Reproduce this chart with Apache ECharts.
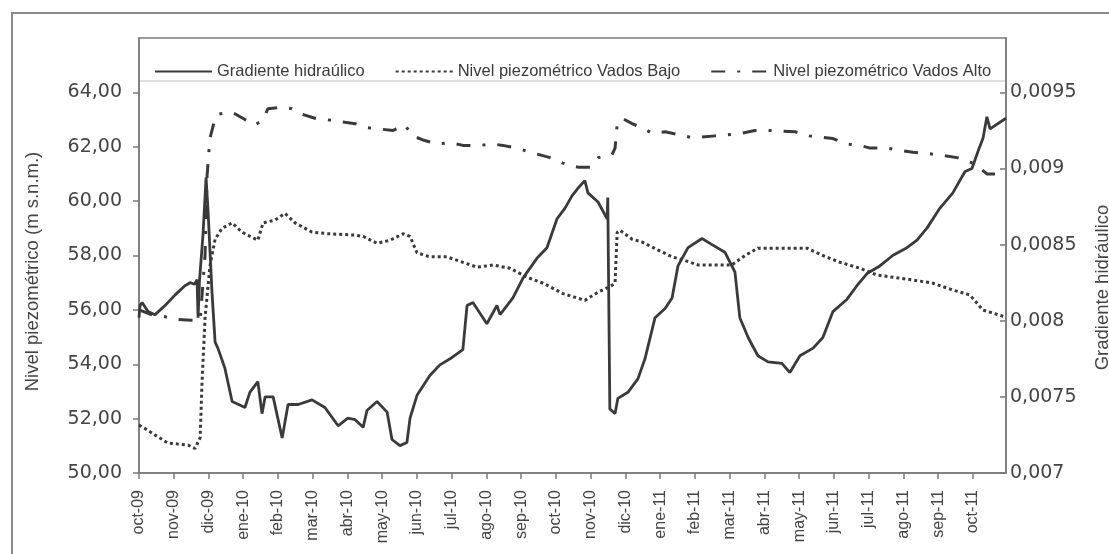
<!DOCTYPE html>
<html>
<head>
<meta charset="utf-8">
<script src="https://cdn.jsdelivr.net/npm/echarts@6/dist/echarts.min.js"></script>
<style>
  html, body { margin: 0; padding: 0; background: #fff; }
  #chart { width: 1109px; height: 554px; }
</style>
</head>
<body>
<div id="chart"></div>
<script>
// month labels, one per tick (month index 0..24)
const months = ['oct-09', 'nov-09', 'dic-09', 'ene-10', 'feb-10', 'mar-10', 'abr-10', 'may-10',
  'jun-10', 'jul-10', 'ago-10', 'sep-10', 'oct-10', 'nov-10', 'dic-10', 'ene-11', 'feb-11',
  'mar-11', 'abr-11', 'may-11', 'jun-11', 'jul-11', 'ago-11', 'sep-11', 'oct-11'];
const monthTicks = months.map((m, i) => i);
const leftTicks = [50, 52, 54, 56, 58, 60, 62, 64];
const rightTicks = [0.007, 0.0075, 0.008, 0.0085, 0.009, 0.0095];

// Gradiente hidraúlico (right axis), position in months from oct-09
const gradMonth = [0, 0.03, 0.09, 0.26, 0.46, 0.75, 1.04, 1.32, 1.47, 1.6, 1.67, 1.7, 1.74, 1.84, 1.93,
  1.99, 2.1, 2.19, 2.27, 2.47, 2.68, 3.05, 3.19, 3.42, 3.54, 3.63, 3.86, 4.12, 4.29, 4.58, 4.98,
  5.35, 5.73, 6.01, 6.22, 6.45, 6.56, 6.85, 7.14, 7.28, 7.51, 7.71, 7.8, 8.0, 8.37, 8.66, 8.95,
  9.32, 9.44, 9.61, 10.01, 10.3, 10.39, 10.76, 11.05, 11.45, 11.74, 12.03, 12.26, 12.46, 12.63,
  12.83, 12.92, 13.21, 13.47, 13.49, 13.55, 13.7, 13.78, 14.07, 14.36, 14.56, 14.85, 15.14, 15.34,
  15.51, 15.8, 16.2, 16.49, 16.86, 17.15, 17.29, 17.53, 17.81, 18.1, 18.5, 18.73, 19.02, 19.4,
  19.68, 19.97, 20.37, 20.66, 20.95, 21.32, 21.7, 22.1, 22.39, 22.68, 23.05, 23.42, 23.77, 23.97,
  24.14, 24.29, 24.4, 24.49, 24.95];
const gradValue = [0.00802, 0.0081, 0.00812, 0.00806, 0.00804, 0.0081, 0.00817, 0.00823, 0.00825,
  0.00824, 0.00827, 0.00802, 0.00826, 0.00856, 0.00894, 0.00871, 0.00819, 0.00786, 0.00782,
  0.00769, 0.00747, 0.00743, 0.00753, 0.0076, 0.00739, 0.0075, 0.0075, 0.00723, 0.00745, 0.00745,
  0.00748, 0.00743, 0.00731, 0.00736, 0.00735, 0.0073, 0.00741, 0.00747, 0.0074, 0.00722, 0.00718,
  0.0072, 0.00736, 0.00751, 0.00764, 0.00771, 0.00775, 0.00781, 0.0081, 0.00812, 0.00798, 0.0081,
  0.00804, 0.00815, 0.00828, 0.00841, 0.00848, 0.00867, 0.00874, 0.00882, 0.00887, 0.00892,
  0.00884, 0.00878, 0.00867, 0.00881, 0.00742, 0.00739, 0.00749, 0.00753, 0.00762, 0.00775,
  0.00802, 0.00808, 0.00815, 0.00836, 0.00848, 0.00854, 0.0085, 0.00845, 0.00832, 0.00802,
  0.00789, 0.00777, 0.00773, 0.00772, 0.00766, 0.00777, 0.00782, 0.00789, 0.00806, 0.00814,
  0.00823, 0.00831, 0.00836, 0.00843, 0.00848, 0.00853, 0.00861, 0.00874, 0.00884, 0.00898,
  0.009, 0.00911, 0.0092, 0.00934, 0.00926, 0.00933];

// Nivel piezométrico Vados Bajo (m s.n.m.)
const bajoMonth = [0, 0.09, 0.46, 0.83, 1.41, 1.61, 1.76, 1.81, 1.9, 2.04, 2.19, 2.39, 2.68, 2.96,
  3.42, 3.57, 3.91, 4.2, 4.49, 4.98, 5.44, 6.22, 6.45, 6.85, 7.22, 7.6, 7.8, 8.0, 8.37, 8.86,
  9.32, 9.73, 10.19, 10.68, 11.17, 11.63, 12.2, 12.83, 13.21, 13.61, 13.7, 13.76, 13.84, 14.19,
  14.47, 14.94, 15.34, 15.63, 16.09, 16.58, 17.06, 17.44, 17.81, 18.59, 19.22, 19.68, 20.17,
  20.75, 21.24, 21.7, 22.27, 22.85, 23.42, 23.91, 24.29, 24.58, 24.95];
const bajoValue = [51.76, 51.7, 51.4, 51.1, 51.03, 50.9, 51.3, 53.2, 55.7, 57.6, 58.6, 59.0, 59.2,
  58.86, 58.56, 59.2, 59.3, 59.55, 59.2, 58.86, 58.8, 58.75, 58.7, 58.45, 58.56, 58.8, 58.7, 58.1,
  57.95, 57.95, 57.75, 57.57, 57.65, 57.53, 57.2, 56.98, 56.6, 56.35, 56.65, 56.9, 57.0, 58.85,
  58.93, 58.6, 58.5, 58.2, 57.95, 57.85, 57.65, 57.65, 57.65, 58.0, 58.27, 58.27, 58.27, 58.0,
  57.75, 57.53, 57.28, 57.2, 57.1, 56.98, 56.73, 56.55, 55.99, 55.88, 55.73];

// Nivel piezométrico Vados Alto (m s.n.m.)
const altoMonth = [0, 0.3, 0.75, 1.0, 1.5, 1.76, 1.9, 1.96, 2.04, 2.19, 2.27, 2.68, 3.05, 3.34,
  3.57, 3.71, 4.12, 4.4, 4.69, 5.06, 5.55, 5.93, 6.22, 6.56, 6.94, 7.31, 7.65, 7.88, 8.17, 8.58,
  8.95, 9.32, 9.81, 10.19, 10.47, 10.88, 11.25, 11.54, 11.83, 12.2, 12.4, 12.63, 12.98, 13.21,
  13.61, 13.7, 13.76, 13.9, 14.19, 14.47, 14.76, 15.14, 15.51, 15.86, 16.09, 16.58, 17.06, 17.35,
  17.73, 18.1, 18.88, 19.29, 19.97, 20.37, 20.75, 21.04, 21.53, 21.99, 22.27, 22.68, 23.05,
  23.54, 23.83, 24.12, 24.4, 24.69, 24.95];
const altoValue = [56.0, 55.85, 55.75, 55.65, 55.62, 55.62, 58.0, 60.95, 62.3, 63.05, 63.2, 63.27,
  63.0, 62.8, 63.0, 63.4, 63.45, 63.4, 63.2, 63.05, 62.97, 62.9, 62.85, 62.7, 62.65, 62.6, 62.8,
  62.4, 62.25, 62.1, 62.15, 62.05, 62.05, 62.1, 62.05, 61.95, 61.8, 61.7, 61.6, 61.4, 61.3, 61.25,
  61.25, 61.6, 61.7, 61.95, 62.8, 63.05, 62.85, 62.7, 62.5, 62.55, 62.45, 62.35, 62.35, 62.4,
  62.45, 62.5, 62.6, 62.6, 62.55, 62.4, 62.3, 62.1, 62.05, 61.95, 61.95, 61.85, 61.8, 61.75,
  61.7, 61.6, 61.5, 61.3, 61.0, 61.0, 60.9];

const pair = (xs, ys) => xs.map((x, i) => [x, ys[i]]);

const font = 'Liberation Sans, Arial, sans-serif';
const tickFont = 'DejaVu Sans, sans-serif';
const axisColor = '#7a7a7a';
const lineColor = '#3a3a3a';

const chart = echarts.init(document.getElementById('chart'));

chart.setOption({
  animation: false,
  backgroundColor: '#fff',
  grid: {
    left: 139, right: 103, top: 38, bottom: 81,
    outerBoundsMode: 'none',
    show: true, borderColor: axisColor, borderWidth: 1.5, backgroundColor: 'transparent'
  },
  legend: {
    left: 149, top: 58,
    itemWidth: 57, itemHeight: 14, itemGap: 30,
    itemStyle: { opacity: 0 },
    textStyle: { fontFamily: font, fontSize: 16.5, color: '#3a3a3a' },
    data: ['Gradiente hidraúlico', 'Nivel piezométrico Vados Bajo', 'Nivel piezométrico Vados Alto']
  },
  xAxis: {
    type: 'value', min: 0, max: 24.95,
    axisLine: { show: true, lineStyle: { color: axisColor, width: 1.5 } },
    axisTick: { show: true, length: 6, lineStyle: { color: axisColor, width: 1.5 }, customValues: monthTicks },
    axisLabel: {
      rotate: 90, margin: 17, fontFamily: font, fontSize: 16, color: '#444',
      customValues: monthTicks,
      formatter: v => months[Math.round(v)] || ''
    },
    splitLine: { show: false }
  },
  yAxis: [
    {
      type: 'value', min: 50, max: 66, position: 'left',
      name: 'Nivel piezométrico (m s.n.m.)', nameLocation: 'middle', nameGap: 97, nameRotate: 90,
      nameTextStyle: { fontFamily: font, fontSize: 18.5, color: '#444', padding: [0, 32, 0, 0] },
      axisLine: { show: true, lineStyle: { color: axisColor, width: 1.5 } },
      axisTick: { show: true, length: 6, lineStyle: { color: axisColor, width: 1.5 }, customValues: leftTicks },
      axisLabel: {
        margin: 17, fontFamily: tickFont, fontSize: 19, color: '#444',
        customValues: leftTicks,
        formatter: v => v.toFixed(2).replace('.', ',')
      },
      splitLine: { show: false }
    },
    {
      type: 'value', min: 0.007, max: 0.007 + 0.0025 * 16 / 14, position: 'right',
      name: 'Gradiente hidráulico', nameLocation: 'middle', nameGap: 87, nameRotate: 90,
      nameTextStyle: { fontFamily: font, fontSize: 18.5, color: '#444', padding: [0, 64, 0, 0] },
      axisLine: { show: true, lineStyle: { color: axisColor, width: 1.5 } },
      axisTick: { show: true, inside: true, length: 6, lineStyle: { color: axisColor, width: 1.5 }, customValues: rightTicks },
      axisLabel: {
        margin: 4, fontFamily: tickFont, fontSize: 19, color: '#444',
        customValues: rightTicks,
        formatter: v => String(parseFloat(v.toFixed(4))).replace('.', ',')
      },
      splitLine: { show: false }
    }
  ],
  series: [
    {
      name: 'Gradiente hidraúlico', type: 'line', yAxisIndex: 1,
      data: pair(gradMonth, gradValue),
      showSymbol: false, symbol: 'none', symbolSize: 0,
      lineStyle: { color: lineColor, width: 2.8, type: 'solid' },
      itemStyle: { color: lineColor }
    },
    {
      name: 'Nivel piezométrico Vados Bajo', type: 'line', yAxisIndex: 0,
      data: pair(bajoMonth, bajoValue),
      showSymbol: false, symbol: 'none', symbolSize: 0,
      lineStyle: { color: lineColor, width: 3, type: [3, 3] },
      itemStyle: { color: lineColor }
    },
    {
      name: 'Nivel piezométrico Vados Alto', type: 'line', yAxisIndex: 0,
      data: pair(altoMonth, altoValue),
      showSymbol: false, symbol: 'none', symbolSize: 0,
      lineStyle: { color: lineColor, width: 3, type: [14, 12, 3, 12] },
      itemStyle: { color: lineColor }
    }
  ],
  graphic: [
    {
      type: 'rect', silent: true, z: 100,
      shape: { x: 12, y: 13, width: 1110, height: 600 },
      style: { fill: 'none', stroke: '#8a8a8a', lineWidth: 2 }
    },
    {
      type: 'line', silent: true, z: 100,
      shape: { x1: 140, y1: 81, x2: 1005, y2: 81 },
      style: { stroke: '#d6d6d6', lineWidth: 1.5 }
    }
  ]
});

window.addEventListener('resize', () => chart.resize());
</script>
</body>
</html>
